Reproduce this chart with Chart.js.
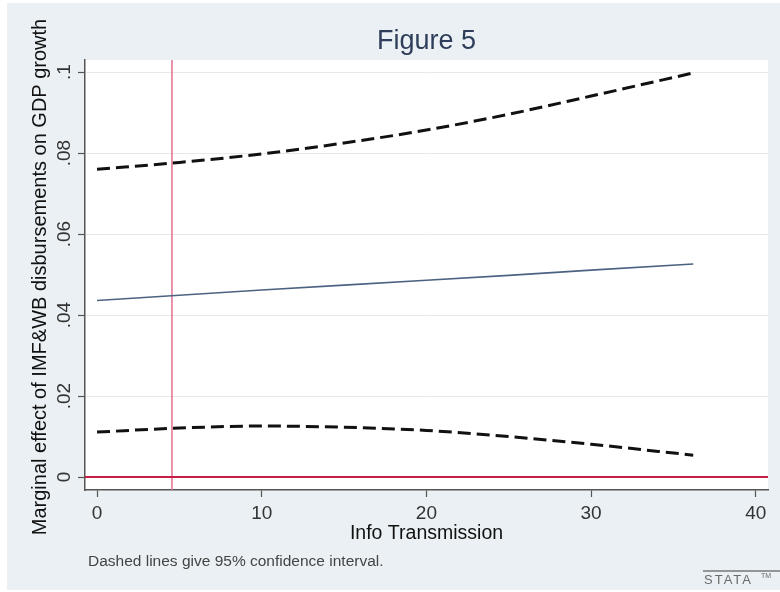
<!DOCTYPE html>
<html>
<head>
<meta charset="utf-8">
<script src="https://cdn.jsdelivr.net/npm/chart.js@4.4.1/dist/chart.umd.min.js"></script>
<style>
  html, body { margin: 0; padding: 0; background: #fff; }
  #wrap { width: 780px; height: 592px; }
</style>
</head>
<body>
<div id="wrap"><canvas id="fig5" width="780" height="592"></canvas></div>
<script>
// values
const infoX   = [0, 5, 10, 15, 20, 25, 30, 36.2];
const effect  = [0.0436, 0.0449, 0.0462, 0.0474, 0.0486, 0.0498, 0.0511, 0.0526];
const upperCI = [0.0760, 0.0777, 0.0798, 0.0825, 0.0857, 0.0896, 0.0941, 0.0998];
const lowerCI = [0.0111, 0.0121, 0.0126, 0.0123, 0.0115, 0.0100, 0.0081, 0.0054];

const xTicks = [0, 10, 20, 30, 40];
const yTicks = [0, 0.02, 0.04, 0.06, 0.08, 0.1];
const yTickLabels = ["0", ".02", ".04", ".06", ".08", ".1"];

const xRange = [-0.73, 40.74];
const yRange = [-0.0032, 0.103];
const refX = 4.55; // vertical reference line
const refY = 0;    // horizontal reference line

const FONT = "'Liberation Sans', Arial, sans-serif";

function pts(ys) {
  return infoX.map((x, i) => ({ x: x, y: ys[i] }));
}

const stataDecor = {
  id: "stataDecor",
  beforeDraw(chart) {
    const ctx = chart.ctx;
    ctx.save();
    ctx.fillStyle = "#fff";
    ctx.fillRect(0, 0, chart.width, chart.height);
    ctx.fillStyle = "#eaf0f3";
    ctx.fillRect(7, 3, chart.width - 7, chart.height - 5);
    const a = chart.chartArea;
    ctx.fillStyle = "#fff";
    ctx.fillRect(a.left, a.top, a.right - a.left, a.bottom - a.top);
    ctx.restore();
  },
  afterDraw(chart) {
    const ctx = chart.ctx;
    const a = chart.chartArea;
    const cx = (a.left + a.right) / 2;
    ctx.save();
    // title
    ctx.fillStyle = "#2e3d5a";
    ctx.font = "27px " + FONT;
    ctx.textAlign = "center";
    ctx.textBaseline = "middle";
    ctx.fillText("Figure 5", cx, 42);
    // axis titles
    ctx.fillStyle = "#111";
    ctx.font = "19.5px " + FONT;
    ctx.fillText("Info Transmission", cx, 534);
    ctx.save();
    ctx.translate(40, (a.top + a.bottom) / 2 + 2);
    ctx.rotate(-Math.PI / 2);
    ctx.font = "20px " + FONT;
    ctx.fillText("Marginal effect of IMF&WB disbursements on GDP growth", 0, 0);
    ctx.restore();
    // note
    ctx.fillStyle = "#444";
    ctx.font = "15.5px " + FONT;
    ctx.textAlign = "left";
    ctx.fillText("Dashed lines give 95% confidence interval.", 88, 562);
    // stata mark
    ctx.strokeStyle = "#777";
    ctx.lineWidth = 1.5;
    ctx.beginPath();
    ctx.moveTo(703, 571);
    ctx.lineTo(780, 571);
    ctx.stroke();
    ctx.fillStyle = "#6a6a6a";
    ctx.font = "13px " + FONT;
    ctx.letterSpacing = "2px";
    ctx.fillText("STATA", 704, 580);
    ctx.letterSpacing = "0px";
    ctx.font = "7px " + FONT;
    ctx.fillText("TM", 761, 576);
    ctx.restore();
  }
};

const dashed = {
  borderColor: "#111",
  borderWidth: 3,
  borderDash: [13, 6],
  pointRadius: 0,
  cubicInterpolationMode: "monotone",
  fill: false
};

new Chart(document.getElementById("fig5"), {
  type: "line",
  data: {
    datasets: [
      Object.assign({ label: "upper", data: pts(upperCI) }, dashed),
      Object.assign({ label: "lower", data: pts(lowerCI) }, dashed),
      {
        label: "effect",
        data: pts(effect),
        borderColor: "#4c6282",
        borderWidth: 1.6,
        pointRadius: 0,
        fill: false
      },
      {
        label: "zero",
        data: [{ x: xRange[0], y: refY }, { x: xRange[1], y: refY }],
        borderColor: "#c81e45",
        borderWidth: 2,
        pointRadius: 0
      },
      {
        label: "ref",
        data: [{ x: refX, y: yRange[0] }, { x: refX, y: yRange[1] }],
        borderColor: "#e0708f",
        borderWidth: 1.5,
        pointRadius: 0
      }
    ]
  },
  options: {
    responsive: false,
    animation: false,
    devicePixelRatio: 1,
    layout: { padding: { left: 20, right: 12, top: 60, bottom: 60 } },
    plugins: {
      legend: { display: false },
      tooltip: { enabled: false }
    },
    scales: {
      x: {
        type: "linear",
        position: "bottom",
        min: xRange[0],
        max: xRange[1],
        afterBuildTicks: s => { s.ticks = xTicks.map(v => ({ value: v })); },
        afterFit: s => { s.height = 42; },
        grid: { drawOnChartArea: false, tickLength: 7, tickColor: "#555", tickWidth: 1.2 },
        border: { color: "#555", width: 1.5 },
        ticks: {
          font: { family: FONT, size: 19 },
          color: "#333",
          padding: 5,
          maxRotation: 0,
          autoSkip: false
        }
      },
      y: {
        type: "linear",
        min: yRange[0],
        max: yRange[1],
        afterBuildTicks: s => { s.ticks = yTicks.map(v => ({ value: v })); },
        afterFit: s => { s.width = 65; },
        grid: { color: "#e8e8e8", lineWidth: 1, tickLength: 7, tickColor: "#555", tickWidth: 1.2 },
        border: { color: "#555", width: 1.5 },
        ticks: {
          font: { family: FONT, size: 19 },
          color: "#333",
          padding: 0,
          minRotation: 90,
          maxRotation: 90,
          crossAlign: "center",
          autoSkip: false,
          callback: (v, i) => yTickLabels[i]
        }
      }
    }
  },
  plugins: [stataDecor]
});
</script>
</body>
</html>
